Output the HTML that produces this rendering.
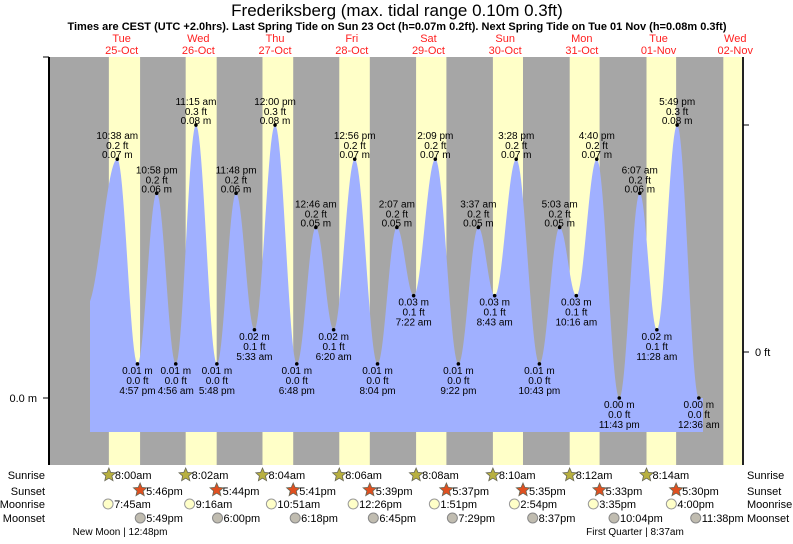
<!DOCTYPE html>
<html><head><meta charset="utf-8"><style>
body{margin:0;background:#fff;font-family:"Liberation Sans",sans-serif}
svg text{font-family:"Liberation Sans",sans-serif}
</style></head><body>
<svg id="c" width="793" height="539" xmlns="http://www.w3.org/2000/svg">
<text x="397" y="16" font-size="17" text-anchor="middle" fill="#000">Frederiksberg (max. tidal range 0.10m 0.3ft)</text>
<text x="397" y="30" font-size="11" font-weight="bold" text-anchor="middle" fill="#000">Times are CEST (UTC +2.0hrs). Last Spring Tide on Sun 23 Oct (h=0.07m 0.2ft). Next Spring Tide on Tue 01 Nov (h=0.08m 0.3ft)</text>
<g id="bg"></g><g id="tide"></g><g id="lbl"></g><g id="axes"></g><g id="bottom"></g>
</svg>
<script>
const dayNames=["Tue","Wed","Thu","Fri","Sat","Sun","Mon","Tue","Wed"];
const dayDates=["25-Oct","26-Oct","27-Oct","28-Oct","29-Oct","30-Oct","31-Oct","01-Nov","02-Nov"];
const sunrise=["8:00am","8:02am","8:04am","8:06am","8:08am","8:10am","8:12am","8:14am","8:16am"];
const sunset=["5:46pm","5:44pm","5:41pm","5:39pm","5:37pm","5:35pm","5:33pm","5:30pm"];
const moonrise=["7:45am","9:16am","10:51am","12:26pm","1:51pm","2:54pm","3:35pm","4:00pm"];
const moonset=["5:49pm","6:00pm","6:18pm","6:45pm","7:29pm","8:37pm","10:04pm","11:38pm"];
const tideDay=[25,25,25,25,26,26,26,26,27,27,27,28,28,28,28,29,29,29,29,30,30,30,30,31,31,31,31,32,32,32,33];
const tideTime=["1:00 am","10:38 am","4:57 pm","10:58 pm","4:56 am","11:15 am","5:48 pm","11:48 pm","5:33 am","12:00 pm","6:48 pm","12:46 am","6:20 am","12:56 pm","8:04 pm","2:07 am","7:22 am","2:09 pm","9:22 pm","3:37 am","8:43 am","3:28 pm","10:43 pm","5:03 am","10:16 am","4:40 pm","11:43 pm","6:07 am","11:28 am","5:49 pm","12:36 am"];
const tideM=[0.027,0.07,0.01,0.06,0.01,0.08,0.01,0.06,0.02,0.08,0.01,0.05,0.02,0.07,0.01,0.05,0.03,0.07,0.01,0.05,0.03,0.07,0.01,0.05,0.03,0.07,0.00,0.06,0.02,0.08,0.00];
const tideFt=["0.1","0.2","0.0","0.2","0.0","0.3","0.0","0.2","0.1","0.3","0.0","0.2","0.1","0.2","0.0","0.2","0.1","0.2","0.0","0.2","0.1","0.2","0.0","0.2","0.1","0.2","0.0","0.2","0.1","0.3","0.0"];
const NS="http://www.w3.org/2000/svg";
const X0=83.3,DW=76.7,Y0=398,PM=3412;
function hrs(s){let m=s.match(/(\d+):(\d+)\s*(am|pm)/);let h=+m[1]%12;if(m[3]=="pm")h+=12;return h+ +m[2]/60;}
function xT(d,s){return X0+(d-25+hrs(s)/24)*DW;}
function yM(v){return Y0-v*PM;}
function el(t,a,p){const e=document.createElementNS(NS,t);for(const k in a)e.setAttribute(k,a[k]);p.appendChild(e);return e;}
function tx(x,y,s,a,p,sz,fill){const e=el("text",{x:x,y:y,"font-size":sz||10,"text-anchor":a||"middle",fill:fill||"#000"},p);e.textContent=s;return e;}
const bg=document.getElementById("bg"),tg=document.getElementById("tide"),lg=document.getElementById("lbl"),ax=document.getElementById("axes"),bt=document.getElementById("bottom");
let r=el("rect",{x:49,y:57,width:694,height:408,fill:"#a6a6a6"},bg);


for(let i=0;i<9;i++){
 const xs=xT(25+i,sunrise[i]);const xe=i<8?xT(25+i,sunset[i]):743;
 const d=el("rect",{x:xs,y:57,width:Math.min(xe,743)-xs,height:408,fill:"#ffffc8"},bg);
 
 
 const xn=X0+(i+0.5)*DW;
 const t1=tx(xn,42,dayNames[i],"middle",bg,11,"#ff2020");
 
 
 const t2=tx(xn,54,dayDates[i],"middle",bg,11,"#ff2020");
 
 
}
const px=tideDay.map((d,i)=>xT(d,tideTime[i]));
const XA=90,XB=703;
function val(x){let k=0;while(k<px.length-2&&px[k+1]<x)k++;
 const f=Math.max(0,Math.min(1,(x-px[k])/(px[k+1]-px[k])));return tideM[k]+(tideM[k+1]-tideM[k])*(1-Math.cos(Math.PI*f))/2;}
let pts=[[XA,432]];
for(let x=XA;x<=XB;x+=1)pts.push([x,yM(val(x))]);
pts.push([XB,432]);
const path=el("path",{d:"M"+pts.map(p=>p[0].toFixed(1)+","+p[1].toFixed(1)).join("L")+"Z",fill:"#a0b0ff"},tg);


for(let i=1;i<tideM.length;i++){
 const x=px[i],y=yM(tideM[i]);const high=i%2==1;
 const dot=el("circle",{cx:x,cy:y,r:1.8,fill:"#000"},lg);
 
 
 const g=el("g",{},lg);
 
 
 const m=tideM[i].toFixed(2)+" m",ft=tideFt[i]+" ft";
 if(high){tx(x,y-20,tideTime[i],"middle",g);tx(x,y-10,ft,"middle",g);tx(x,y-1,m,"middle",g);}
 else{tx(x,y+10,m,"middle",g);tx(x,y+20,ft,"middle",g);tx(x,y+30,tideTime[i],"middle",g);}
}
let a=el("line",{x1:49,y1:57,x2:49,y2:465,stroke:"#000","stroke-width":2},ax);

a=el("line",{x1:743,y1:57,x2:743,y2:465,stroke:"#222","stroke-width":2},ax);

el("line",{x1:43,y1:57,x2:49,y2:57,stroke:"#000"},ax);el("line",{x1:43,y1:398,x2:49,y2:398,stroke:"#000"},ax);
el("line",{x1:743,y1:125,x2:749,y2:125,stroke:"#000"},ax);el("line",{x1:743,y1:352,x2:749,y2:352,stroke:"#000"},ax);
a=tx(37,402,"0.0 m","end",ax,11);
a=tx(755,356,"0 ft","start",ax,11);
const rows=[["Sunrise",479],["Sunset",495],["Moonrise",508],["Moonset",522]];
rows.forEach(rw=>{let t=tx(45,rw[1],rw[0],"end",bt,11);
 t=tx(747,rw[1],rw[0],"start",bt,11);});
function star(x,y,fill){let s="";for(let k=0;k<10;k++){const rr=k%2?3.2:7,an=-Math.PI/2+k*Math.PI/5;s+=(x+rr*Math.cos(an)).toFixed(1)+","+(y+rr*Math.sin(an)).toFixed(1)+" ";}
 return el("polygon",{points:s,fill:fill,stroke:"#665",'stroke-width':0.8},bt);}
for(let i=0;i<8;i++){
 let x=xT(25+i,sunrise[i]);let s=star(x,475,"#b8b040");
 let t=tx(x+6,479,sunrise[i],"start",bt,11);
 x=xT(25+i,sunset[i]);s=star(x,490,"#e05020");
 t=tx(x+6,495,sunset[i],"start",bt,11);
 x=xT(25+i,moonrise[i]);let c=el("circle",{cx:x,cy:504,r:5,fill:"#ffffc8",stroke:"#999"},bt);
 t=tx(x+6,508,moonrise[i],"start",bt,11);
 x=xT(25+i,moonset[i]);c=el("circle",{cx:x,cy:518,r:5,fill:"#c0bcb0",stroke:"#888"},bt);
 t=tx(x+6,522,moonset[i],"start",bt,11);
}
let p=tx(120,535,"New Moon | 12:48pm","middle",bt,10);
p=tx(635,535,"First Quarter | 8:37am","middle",bt,10);
</script>
</body></html>
